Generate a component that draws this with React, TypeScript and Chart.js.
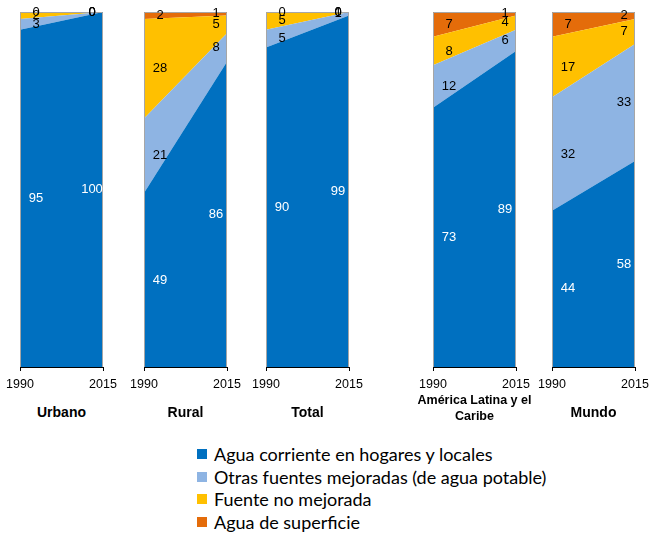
import React, { useEffect, useRef } from "react";
import { Chart, registerables } from "chart.js";

Chart.register(...registerables);

// ---- data ----
const YEARS = [1990, 2015];
const PANEL_TITLES = ["Urbano", "Rural", "Total", "América Latina y el Caribe", "Mundo"];
const SERIES_NAMES = [
  "Agua corriente en hogares y locales",
  "Otras fuentes mejoradas (de agua potable)",
  "Fuente no mejorada",
  "Agua de superficie",
];
// values per panel: [1990, 2015]
const pipedWater = [[95, 100], [49, 86], [90, 99], [73, 89], [44, 58]];
const otherImproved = [[3, 0], [21, 8], [5, 1], [12, 6], [32, 33]];
const unimproved = [[2, 0], [28, 5], [5, 0], [8, 4], [17, 7]];
const surfaceWater = [[0, 0], [2, 1], [0, 0], [7, 1], [7, 2]];

// ---- styles ----
const SERIES_VALUES = [pipedWater, otherImproved, unimproved, surfaceWater];
const COLORS = ["#0070C0", "#8EB4E3", "#FFC000", "#E46C0A"];
const LABEL_COLORS = ["#FFFFFF", "#000000", "#000000", "#000000"];
const FONT = "'Liberation Sans', Arial, sans-serif";
const PLOT_LEFTS = [20, 144, 266, 433, 552];
const PLOT_W = 83;
const PAD_X = 20;
const PLOT_TOP = 12;
const PLOT_BOTTOM = 367;
const AXIS_H = 30;

const frameAndLabels = {
  id: "frameAndLabels",
  afterDatasetsDraw(chart: any) {
    const { ctx, chartArea } = chart;
    const xs = chart.scales.x;
    const ys = chart.scales.y;
    const { left, right, top, bottom } = chartArea;
    ctx.save();
    ctx.strokeStyle = "#A6A6A6";
    ctx.lineWidth = 1;
    ctx.beginPath();
    ctx.moveTo(left + 0.5, bottom);
    ctx.lineTo(left + 0.5, top + 0.5);
    ctx.lineTo(right - 0.5, top + 0.5);
    ctx.lineTo(right - 0.5, bottom);
    ctx.stroke();
    ctx.strokeStyle = "#000";
    ctx.beginPath();
    ctx.moveTo(left, bottom + 0.5);
    ctx.lineTo(right, bottom + 0.5);
    ctx.stroke();

    ctx.font = `13px ${FONT}`;
    ctx.textAlign = "center";
    ctx.textBaseline = "middle";
    const nds = chart.data.datasets.length;
    for (let k = 0; k < YEARS.length; k++) {
      let cum = 0;
      const xPix = xs.getPixelForValue(YEARS[k]) + (k === 0 ? 16 : -11);
      for (let d = 0; d < nds; d++) {
        const v = chart.data.datasets[d].data[k].y;
        const yPix = ys.getPixelForValue(cum + v / 2);
        cum += v;
        ctx.fillStyle = LABEL_COLORS[d];
        ctx.fillText(String(v), xPix, yPix);
      }
    }
    ctx.restore();
  },
};

function Panel({ index }: { index: number }) {
  const ref = useRef<HTMLCanvasElement>(null);
  useEffect(() => {
    if (!ref.current) return;
    const chart = new Chart(ref.current, {
      type: "line",
      data: {
        datasets: SERIES_NAMES.map((name, si) => ({
          label: name,
          data: YEARS.map((yr, k) => ({ x: yr, y: SERIES_VALUES[si][index][k] })),
          fill: si === 0 ? "origin" : "-1",
          backgroundColor: COLORS[si],
          borderColor: COLORS[si],
          borderWidth: 0,
          pointRadius: 0,
          tension: 0,
        })),
      },
      options: {
        animation: false,
        responsive: false,
        layout: { padding: { left: PAD_X, right: PAD_X, top: PLOT_TOP, bottom: 0 } },
        plugins: { legend: { display: false }, tooltip: { enabled: false } },
        scales: {
          x: {
            type: "linear",
            min: YEARS[0],
            max: YEARS[YEARS.length - 1],
            afterBuildTicks: (s: any) => {
              s.ticks = YEARS.map((v) => ({ value: v }));
            },
            afterFit: (s: any) => {
              s.height = AXIS_H;
            },
            ticks: {
              callback: (v: any) => String(v),
              font: { family: FONT, size: 12.5 },
              color: "#000",
              maxRotation: 0,
              autoSkip: false,
              padding: 6,
            },
            grid: { drawOnChartArea: false, drawTicks: true, tickLength: 4, color: "#000" },
            border: { display: true, color: "#000" },
          },
          y: { stacked: true, min: 0, max: 100, display: false },
        },
      } as any,
      plugins: [frameAndLabels],
    });
    return () => chart.destroy();
  }, [index]);
  return (
    <div style={{ position: "absolute", left: PLOT_LEFTS[index] - PAD_X, top: 0 }}>
      <canvas ref={ref} width={PLOT_W + 2 * PAD_X} height={PLOT_BOTTOM + AXIS_H} />
    </div>
  );
}

function Title({ index }: { index: number }) {
  const center = PLOT_LEFTS[index] + PLOT_W / 2;
  const long = PANEL_TITLES[index].length > 12;
  return (
    <div
      style={{
        position: "absolute",
        left: center - 80,
        width: 160,
        top: long ? 392 : 404,
        textAlign: "center",
        fontFamily: FONT,
        fontWeight: "bold",
        fontSize: long ? 12.5 : 14,
        lineHeight: long ? "16px" : "17px",
        color: "#000",
      }}
    >
      {long ? (
        <>
          América Latina y el
          <br />
          Caribe
        </>
      ) : (
        PANEL_TITLES[index]
      )}
    </div>
  );
}

export default function App() {
  return (
    <div style={{ position: "absolute", left: 0, top: 0, width: 650, height: 536, background: "#fff" }}>
      {PANEL_TITLES.map((_, i) => (
        <Panel key={i} index={i} />
      ))}
      {PANEL_TITLES.map((_, i) => (
        <Title key={"t" + i} index={i} />
      ))}
      <div style={{ position: "absolute", left: 197, top: 443 }}>
        {SERIES_NAMES.map((name, i) => (
          <div
            key={name}
            style={{
              display: "flex",
              alignItems: "center",
              height: 22.5,
              fontFamily: "Lato, sans-serif",
              fontSize: 18,
              color: "#000",
              whiteSpace: "nowrap",
            }}
          >
            <span style={{ display: "inline-block", width: 10, height: 10, background: COLORS[i], marginRight: 7 }} />
            {name}
          </div>
        ))}
      </div>
    </div>
  );
}
